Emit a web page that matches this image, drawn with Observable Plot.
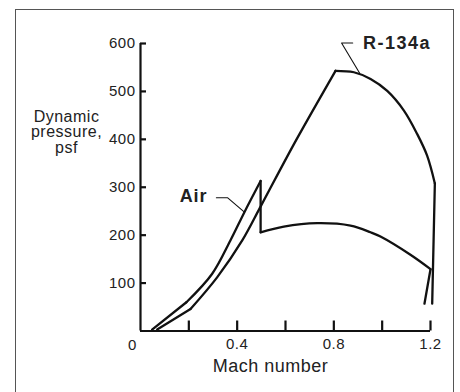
<!DOCTYPE html>
<html><head><meta charset="utf-8">
<script src="https://cdn.jsdelivr.net/npm/d3@7"></script>
<script src="https://cdn.jsdelivr.net/npm/@observablehq/plot@0.6"></script>
<style>
body{margin:0;background:#fff;}
#wrap{position:relative;width:460px;height:392px;overflow:hidden;}
#frame{position:absolute;left:15px;top:9px;width:439px;height:400px;border:1.6px solid #555;border-bottom:none;box-sizing:border-box;}
#chart{position:absolute;left:0;top:0;}
svg text{font-family:"Liberation Sans",Arial,sans-serif;fill:#222;}
g[aria-label="y-axis tick label"] text, g[aria-label="x-axis tick label"] text, g[aria-description="origin"] text{letter-spacing:0.5px;font-size:15px;}
g[aria-description="y title"] text{letter-spacing:0.5px;font-size:16px;}
g[aria-description="x title"] text{letter-spacing:0.5px;font-size:18px;}
g[aria-description="air label"] text{letter-spacing:0.8px;font-size:18px;font-weight:bold;}
g[aria-description="r label"] text{letter-spacing:1.5px;font-size:18px;font-weight:bold;}
</style></head><body><div id="wrap"><div id="frame"></div><div id="chart"></div></div>
<script>
// Air: Mach number vs dynamic pressure (psf)
const airMach = [0.048, 0.19, 0.296, 0.372, 0.43, 0.497, 0.497, 0.593, 0.731, 0.869, 0.952, 0.993, 1.117, 1.2, 1.175];
const airQ    = [3, 60, 119, 189, 248, 313, 206, 218, 225, 220, 206, 197, 159, 129, 57];
const airCorners = [1, 5, 6, 13];
// R-134a
const r134aMach = [0.069, 0.207, 0.317, 0.421, 0.494, 0.572, 0.648, 0.807, 0.883, 0.952, 1.021, 1.090, 1.145, 1.186, 1.218, 1.207];
const r134aQ    = [3, 46, 112, 189, 257, 331, 402, 543, 540, 526, 501, 460, 411, 366, 308, 57];
const r134aCorners = [1, 7, 14];

const seriesNames = ["Air", "R-134a"];
const labelMach = [0.276, 0.921];
const labelQ = [281, 600];
const airLeaderMach = [0.314, 0.361, 0.430];
const airLeaderQ = [278, 278, 248];
const rLeaderMach = [0.878, 0.832, 0.907];
const rLeaderQ = [601, 601, 538];

const yTicks = [100, 200, 300, 400, 500, 600];
const xTicks = [0.2, 0.4, 0.6, 0.8, 1.0, 1.2];
const xTickLabels = [0.4, 0.8, 1.2];
const originLabel = "0";
const yTitle = "Dynamic\npressure,\npsf";
const xTitle = "Mach number";

function pieces(name, xs, ys, corners) {
  const rows = [];
  let seg = 0;
  xs.forEach((x, i) => {
    rows.push({seg: name + "-" + seg, mach: x, q: ys[i]});
    if (corners.includes(i) && i > 0 && i < xs.length - 1) {
      seg++;
      rows.push({seg: name + "-" + seg, mach: x, q: ys[i]});
    }
  });
  return rows;
}
const curveRows = [
  ...pieces(seriesNames[0], airMach, airQ, airCorners),
  ...pieces(seriesNames[1], r134aMach, r134aQ, r134aCorners)
];
const leaderRows = [
  ...airLeaderMach.map((m, i) => ({id: "a", mach: m, q: airLeaderQ[i]})),
  ...rLeaderMach.map((m, i) => ({id: "r", mach: m, q: rLeaderQ[i]}))
];

const chart = Plot.plot({
  width: 460, height: 392,
  marginLeft: 140, marginRight: 30, marginTop: 43, marginBottom: 61.5,
  x: {domain: [0, 1.2], label: null},
  y: {domain: [0, 600], label: null},
  style: {background: "transparent", color: "#222", fontSize: "15px", overflow: "visible"},
  marks: [
    Plot.ruleY([0], {x1: 0, x2: 1.2, strokeWidth: 2.2, stroke: "#111"}),
    Plot.ruleX([0], {y1: 0, y2: 600, strokeWidth: 2.2, stroke: "#111"}),
    Plot.axisY(yTicks, {tickSize: -6, strokeWidth: 2.2, stroke: "#111", tickFormat: () => "", label: null}),
    Plot.axisY(yTicks, {tickSize: 0, tickPadding: 5, label: null}),
    Plot.axisX(xTicks, {tickSize: -10, strokeWidth: 2.2, stroke: "#111", tickFormat: () => "", label: null}),
    Plot.axisX(xTickLabels, {tickSize: 0, tickPadding: 7, label: null, tickFormat: d => d.toFixed(1)}),
    Plot.text([originLabel], {x: 0, y: 0, dx: -8, dy: 14, text: d => d, ariaDescription: "origin"}),
    Plot.text([yTitle], {frameAnchor: "left", dx: -74, dy: -55, text: d => d, textAnchor: "middle", lineAnchor: "middle", lineHeight: 0.97, ariaDescription: "y title"}),
    Plot.text([xTitle], {frameAnchor: "bottom", dx: -15, dy: 35, text: d => d, lineAnchor: "middle", ariaDescription: "x title"}),
    Plot.line(curveRows, {x: "mach", y: "q", z: "seg", curve: "catmull-rom", stroke: "#111", strokeWidth: 2.3, strokeLinecap: "round", strokeLinejoin: "round"}),
    Plot.line(leaderRows, {x: "mach", y: "q", z: "id", stroke: "#111", strokeWidth: 1.1}),
    Plot.text([0], {x: () => labelMach[0], y: () => labelQ[0], text: () => seriesNames[0], textAnchor: "end", fill: "#111", ariaDescription: "air label"}),
    Plot.text([1], {x: () => labelMach[1], y: () => labelQ[1], text: () => seriesNames[1], textAnchor: "start", fill: "#111", ariaDescription: "r label"})
  ]
});
document.getElementById("chart").appendChild(chart);
</script>
</body></html>
